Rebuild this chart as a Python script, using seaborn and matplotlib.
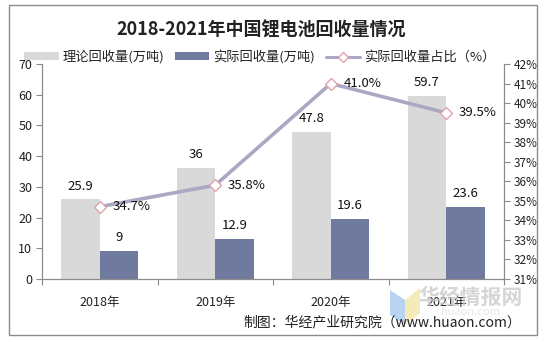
import matplotlib
matplotlib.use("Agg")
import matplotlib.pyplot as plt
import seaborn as sns
import pandas as pd
import numpy as np
from matplotlib.patches import Patch, Rectangle, Polygon
from matplotlib.lines import Line2D
from matplotlib.ticker import FuncFormatter, MultipleLocator

years = ["2018年", "2019年", "2020年", "2021年"]
theoretical = [25.9, 36, 47.8, 59.7]
actual = [9, 12.9, 19.6, 23.6]
share_pct = [34.7, 35.8, 41.0, 39.5]

series_names = ["理论回收量(万吨)", "实际回收量(万吨)", "实际回收量占比（%）"]
bar_colors = ["#d9d9d9", "#707a9e"]
line_color = "#a9a9c4"
marker_edge = "#e0a3aa"

sns.set_theme(style="white")
plt.rcParams["font.family"] = ["Noto Sans CJK SC", "DejaVu Sans"]
plt.rcParams["axes.unicode_minus"] = False

df = pd.DataFrame({
    "year": years * 2,
    "series": [series_names[0]] * 4 + [series_names[1]] * 4,
    "value": theoretical + actual,
})
df_line = pd.DataFrame({"year": years, "share": share_pct})

fig = plt.figure(figsize=(5.47, 3.42), dpi=100)
ax = fig.add_axes([42 / 547, 1 - 279 / 342, (504 - 42) / 547, (279 - 64) / 342])

sns.barplot(data=df, x="year", y="value", hue="series", order=years,
            hue_order=series_names[:2], palette=bar_colors, width=2 / 3,
            gap=0, saturation=1, legend=False, ax=ax, linewidth=0)

txt_kw = dict(fontsize=9.5, color="#111111")
for cont, vals in zip(ax.containers, [theoretical, actual]):
    ax.bar_label(cont, labels=[f"{v:g}" for v in vals], padding=5, **txt_kw)

ax.set_xlim(-0.5, 3.5)
ax.set_ylim(0, 70)
ax.yaxis.set_major_locator(MultipleLocator(10))
ax.set_xlabel("")
ax.set_ylabel("")

ax2 = ax.twinx()
sns.pointplot(data=df_line, x="year", y="share", order=years, ax=ax2,
              color=line_color, markers="D", linewidth=2.6,
              markersize=6.5, markerfacecolor="white",
              markeredgecolor=marker_edge, markeredgewidth=1.0, errorbar=None)
ax2.set_ylim(31, 42)
ax2.yaxis.set_major_locator(MultipleLocator(1))
ax2.yaxis.set_major_formatter(FuncFormatter(lambda v, p: f"{v:.0f}%"))
ax2.set_ylabel("")
ax2.set_xlabel("")
ax2.set_xlim(-0.5, 3.5)

for i, v in enumerate(share_pct):
    ax2.annotate(f"{v:.1f}%", (i, v), xytext=(9, 0), textcoords="offset points",
                 ha="left", va="center", **txt_kw)

spine_c = "#8c8c8c"
for a in (ax, ax2):
    a.spines["top"].set_visible(False)
    for s in ("left", "right", "bottom"):
        a.spines[s].set_color(spine_c)
        a.spines[s].set_linewidth(0.9)
    a.grid(False)
ax.spines["right"].set_visible(False)
ax2.spines["left"].set_visible(False)
ax2.spines["bottom"].set_visible(False)

ax.tick_params(axis="y", left=True, length=4, width=0.8, color=spine_c,
               labelsize=9, labelcolor="#222222", pad=3)
ax2.tick_params(axis="y", right=True, length=4, width=0.8, color=spine_c,
                labelsize=8.5, labelcolor="#222222", pad=3)

# category labels centered, ticks at category boundaries
ax.set_xticks(range(len(years)))
ax.set_xticklabels(years)
ax.tick_params(axis="x", bottom=False, labelsize=9, labelcolor="#222222", pad=6)
ax.set_xticks(np.arange(-0.5, 4, 1), minor=True)
ax.tick_params(axis="x", which="minor", bottom=True, length=4, width=0.8,
               color=spine_c)

fig.text(0.478, 1 - 30 / 342, "2018-2021年中国锂电池回收量情况", ha="center",
         va="center", fontsize=13, fontweight="bold", color="#222222")

handles = [
    Patch(facecolor=bar_colors[0], edgecolor="none"),
    Patch(facecolor=bar_colors[1], edgecolor="none"),
    Line2D([0], [0], color=line_color, lw=2.2, marker="D", markersize=5,
           markerfacecolor="white", markeredgecolor=marker_edge),
]
leg = fig.legend(handles, series_names, loc="center", ncol=3,
                 bbox_to_anchor=(0.475, 1 - 57 / 342), frameon=False,
                 fontsize=9.5, handlelength=2.6, handleheight=0.55,
                 columnspacing=0.8, handletextpad=0.3, borderaxespad=0)
for t in leg.get_texts():
    t.set_color("#222222")

# faint site watermark
fig.patches.append(Polygon([[390 / 547, 1 - 290 / 342], [405 / 547, 1 - 300 / 342],
                            [405 / 547, 1 - 325 / 342], [390 / 547, 1 - 315 / 342]],
                           closed=True, transform=fig.transFigure,
                           facecolor="#a8c8f0", edgecolor="none", alpha=0.8))
fig.patches.append(Polygon([[405 / 547, 1 - 300 / 342], [420 / 547, 1 - 288 / 342],
                            [420 / 547, 1 - 313 / 342], [405 / 547, 1 - 325 / 342]],
                           closed=True, transform=fig.transFigure,
                           facecolor="#f3e7a8", edgecolor="none", alpha=0.8))
fig.text(471 / 547, 1 - 297 / 342, "华经情报网", ha="center", va="center",
         fontsize=15, fontweight="bold", color="#c8c8c8", alpha=0.75)
fig.text(470 / 547, 1 - 312 / 342, "huaon.com", ha="center", va="center",
         fontsize=8, color="#dddddd", alpha=0.7)

fig.text(521 / 547, 1 - 322 / 342, "制图：华经产业研究院（www.huaon.com）",
         ha="right", va="center", fontsize=10, color="#222222")

fig.patches.append(Rectangle((9 / 547, 1 - 335 / 342), 528 / 547, 330 / 342,
                             transform=fig.transFigure, fill=False,
                             edgecolor="#8c8c8c", linewidth=1.0))

fig.savefig("out.png", dpi=100)
